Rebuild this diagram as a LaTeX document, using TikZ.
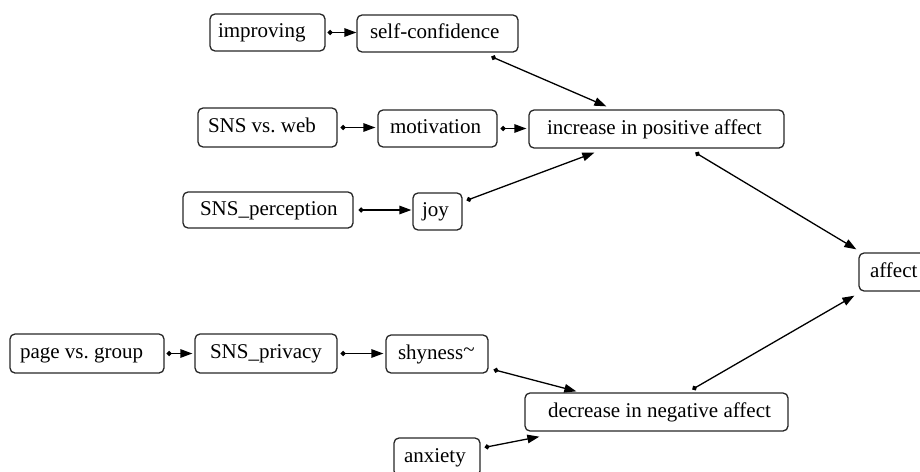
\documentclass[tikz,border=0pt]{standalone}
\usepackage{fontspec}
\setmainfont{Liberation Serif}
\usetikzlibrary{arrows.meta}
\newcommand\mybox[7]{% name x1 y1 x2 y2 leftpad text
  \pgfmathsetmacro\bxw{#4-#2}\pgfmathsetmacro\bxh{#5-#3}%
  \pgfmathsetmacro\bxcx{(#2+#4)/2}\pgfmathsetmacro\bxcy{-(#3+#5)/2}%
  \node[bx,minimum width=\bxw pt,minimum height=\bxh pt] (#1) at (\bxcx pt,\bxcy pt)
    {\makebox[\bxw pt][l]{\hspace*{#6pt}#7}};}
\tikzset{
  bx/.style={draw=black!85, line width=1.3pt, rounded corners=5pt, inner sep=0pt,
    font=\fontsize{21}{24}\selectfont, text height=14pt, text depth=4pt},
  conn/.style={line width=1.3pt, {Circle[length=5pt]}-{Triangle[length=12pt,width=8.5pt]}}
}
\begin{document}
\begin{tikzpicture}[x=1pt,y=1pt]
\useasboundingbox (0,0) rectangle (920,-471);
\mybox{improving}{210}{14}{325}{51}{8}{improving}
\mybox{selfconf}{357}{15}{518}{52}{13}{self-confidence}
\mybox{snsweb}{198}{108}{337}{147}{10}{SNS vs.\ web}
\mybox{motivation}{378}{110}{497}{147}{12}{motivation}
\mybox{increase}{529}{110}{784}{148}{18}{increase in positive affect}
\mybox{snsperc}{183}{192}{353}{228}{17}{SNS\_perception}
\mybox{joy}{413}{193}{462}{230}{9}{joy}
\mybox{affect}{859}{253}{940}{291}{11}{affect}
\mybox{pagegroup}{10}{334}{164}{373}{10}{page vs.\ group}
\mybox{snsprivacy}{195}{334}{337}{373}{15}{SNS\_privacy}
\mybox{shyness}{386}{335}{488}{373}{12}{shyness\raisebox{3pt}{\char"007E}}
\mybox{decrease}{525}{393}{788}{431}{23}{decrease in negative affect}
\mybox{anxiety}{394}{438}{480}{476}{10}{anxiety}

\draw[conn] ([xshift=2pt]improving.east) -- (improving.east -| selfconf.west);
\draw[conn] ([xshift=3pt]snsweb.east) -- ([xshift=-2pt]snsweb.east -| motivation.west);
\draw[conn] ([xshift=3pt]motivation.east) -- ([xshift=-2pt]motivation.east -| increase.west);
\draw[conn] ([xshift=5pt]snsperc.east) -- ([xshift=-1pt]snsperc.east -| joy.west);
\draw[conn] ([xshift=2pt]pagegroup.east) -- ([xshift=-2pt]pagegroup.east -| snsprivacy.west);
\draw[conn] ([xshift=3pt]snsprivacy.east) -- ([xshift=-2pt]snsprivacy.east -| shyness.west);
\draw[conn] ([xshift=135pt,yshift=-4pt]selfconf.south west) -- ([xshift=78pt,yshift=3pt]increase.north west);
\draw[conn] ([xshift=4pt,yshift=-8pt]joy.north east) -- ([xshift=66pt,yshift=-4pt]increase.south west);
\draw[conn] ([xshift=167pt,yshift=-4pt]increase.south west) -- ([xshift=-2pt,yshift=3pt]affect.north west);
\draw[conn] ([xshift=168pt,yshift=3pt]decrease.north west) -- ([xshift=-4pt,yshift=-4pt]affect.south west);
\draw[conn] ([xshift=5pt,yshift=4pt]shyness.south east) -- ([xshift=52pt,yshift=1pt]decrease.north west);
\draw[conn] ([xshift=4pt,yshift=-10pt]anxiety.north east) -- ([xshift=15pt,yshift=-5pt]decrease.south west);
\end{tikzpicture}
\end{document}
